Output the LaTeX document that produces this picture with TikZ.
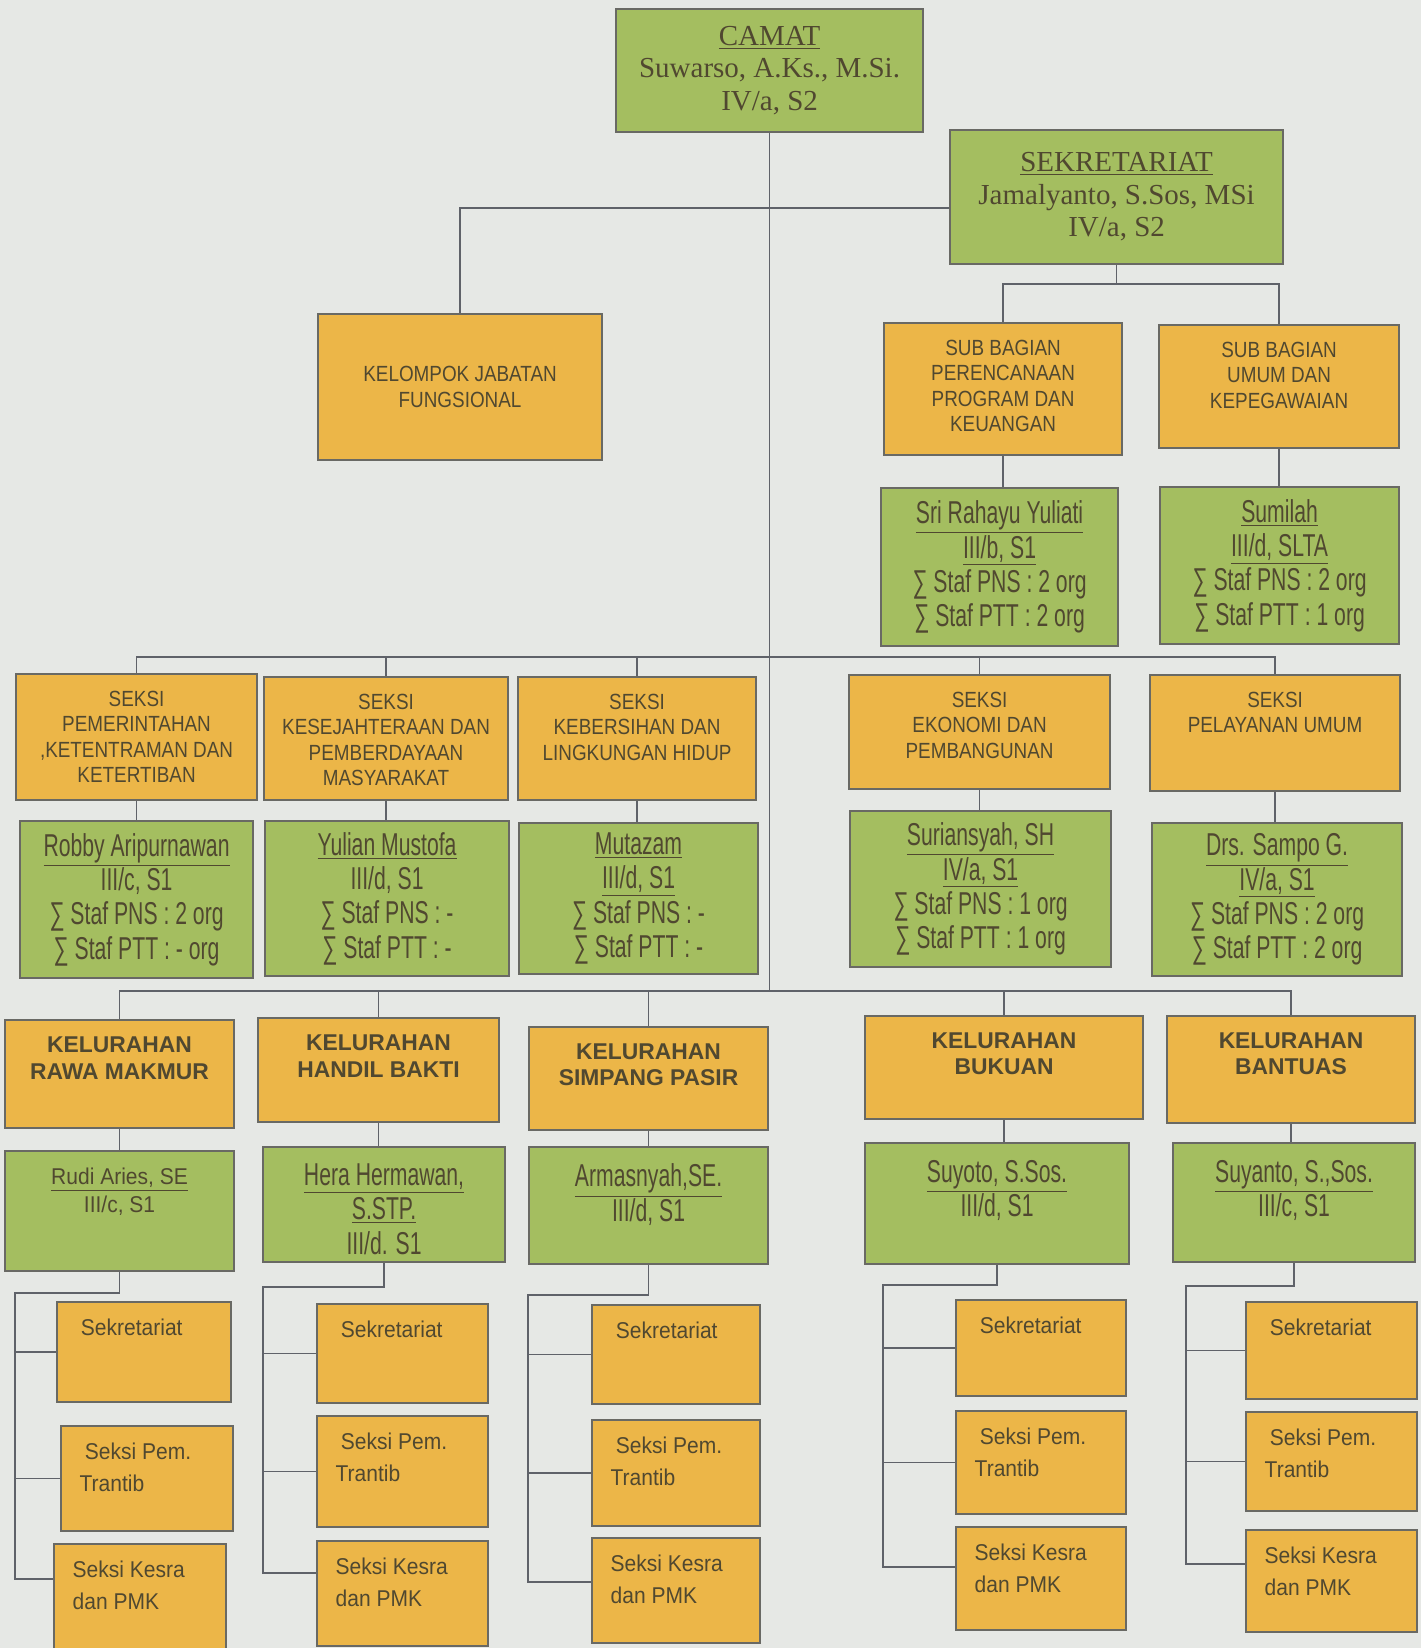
\documentclass[tikz,border=0pt]{standalone}
\usepackage{fontspec}
\setmainfont{Liberation Serif}
\setsansfont{Liberation Sans}
\newfontfamily\sempit[FakeStretch=0.67]{Liberation Sans}
\newfontfamily\kapital[FakeStretch=0.86]{Liberation Sans}
\newfontfamily\agaksempit[FakeStretch=0.92]{Liberation Sans}
\newdimen\pxu
\pxu=0.02cm
\definecolor{latar}{RGB}{230,232,229}
\definecolor{daun}{RGB}{164,190,96}
\definecolor{jingga}{RGB}{236,182,72}
\definecolor{bingkai}{RGB}{105,105,100}
\definecolor{garis}{RGB}{95,98,105}
\definecolor{tinta}{RGB}{80,72,48}

\begin{document}
\begin{tikzpicture}[
  x=0.02cm, y=-0.02cm,
  ukuran/.style 2 args={minimum width=#1\pxu, minimum height=#2\pxu},
  kotak/.style={draw=bingkai, line width=1.2pt, anchor=north west,
    inner sep=0pt, align=center, text=tinta},
  hijau/.style={kotak, fill=daun},
  oranye/.style={kotak, fill=jingga},
  atas/.style={anchor=north, yshift=-10pt, inner sep=0pt, align=center, text=tinta},
  kiri/.style={anchor=north west, xshift=11pt, yshift=-10pt, inner sep=0pt, align=left, text=tinta},
  fkamat/.style={font=\fontsize{16.5}{18.5}\selectfont},
  fnama/.style={font=\sempit\fontsize{18}{19.5}\selectfont},
  fseksi/.style={font=\kapital\fontsize{12.5}{14.5}\selectfont},
  flurah/.style={font=\sffamily\bfseries\fontsize{13}{15}\selectfont},
  fkecil/.style={font=\agaksempit\fontsize{13}{16}\selectfont},
  funit/.style={font=\agaksempit\fontsize{13}{18}\selectfont},
  hubung/.style={draw=garis, line width=1pt}
]
\fill[latar] (0,0) rectangle (1421,1648);
\useasboundingbox (0,0) rectangle (1421,1648);

\node[hijau, fkamat, ukuran={307}{123}] (camat) at (615,8) {\underline{CAMAT}\\Suwarso, A.Ks., M.Si.\\IV/a, S2};
\node[hijau, fkamat, ukuran={333}{134}] (sekre) at (949,129) {\underline{SEKRETARIAT}\\Jamalyanto, S.Sos, MSi\\IV/a, S2};
\node[oranye, fseksi, ukuran={284}{146}] (jafung) at (317,313) {KELOMPOK JABATAN\\FUNGSIONAL};

\node[oranye, ukuran={238}{132}, label={[atas, fseksi]north:SUB BAGIAN\\PERENCANAAN\\PROGRAM DAN\\KEUANGAN}] (sbpk) at (883,322) {};
\node[oranye, ukuran={240}{123}, label={[atas, fseksi]north:SUB BAGIAN\\UMUM DAN\\KEPEGAWAIAN}] (sbuk) at (1158,324) {};
\node[hijau, fnama, ukuran={237}{158}] (sri) at (880,487) {\underline{Sri Rahayu Yuliati}\\\underline{III/b, S1}\\∑ Staf PNS : 2 org\\∑ Staf PTT : 2 org};
\node[hijau, fnama, ukuran={239}{157}] (sumilah) at (1159,486) {\underline{Sumilah}\\\underline{III/d, SLTA}\\∑ Staf PNS : 2 org\\∑ Staf PTT : 1 org};

\node[oranye, ukuran={241}{126}, label={[atas, fseksi]north:SEKSI\\PEMERINTAHAN\\,KETENTRAMAN DAN\\KETERTIBAN}] (spem) at (15,673) {};
\node[oranye, ukuran={244}{123}, label={[atas, fseksi]north:SEKSI\\KESEJAHTERAAN DAN\\PEMBERDAYAAN\\MASYARAKAT}] (skesra) at (263,676) {};
\node[oranye, ukuran={238}{123}, label={[atas, fseksi]north:SEKSI\\KEBERSIHAN DAN\\LINGKUNGAN HIDUP}] (sling) at (517,676) {};
\node[oranye, ukuran={261}{114}, label={[atas, fseksi]north:SEKSI\\EKONOMI DAN\\PEMBANGUNAN}] (sekbang) at (848,674) {};
\node[oranye, ukuran={250}{116}, label={[atas, fseksi]north:SEKSI\\PELAYANAN UMUM}] (spu) at (1149,674) {};

\node[hijau, fnama, ukuran={233}{157}] (robby) at (19,820) {\underline{Robby Aripurnawan}\\III/c, S1\\∑ Staf PNS : 2 org\\∑ Staf PTT : - org};
\node[hijau, fnama, ukuran={244}{155}] (yulian) at (264,820) {\underline{Yulian Mustofa}\\III/d, S1\\∑ Staf PNS : -\\∑ Staf PTT : -};
\node[hijau, fnama, ukuran={239}{151}] (mutazam) at (518,822) {\underline{Mutazam}\\\underline{III/d, S1}\\∑ Staf PNS : -\\∑ Staf PTT : -};
\node[hijau, fnama, ukuran={261}{156}] (surian) at (849,810) {\underline{Suriansyah, SH}\\\underline{IV/a, S1}\\∑ Staf PNS : 1 org\\∑ Staf PTT : 1 org};
\node[hijau, fnama, ukuran={250}{153}] (sampo) at (1151,822) {\underline{Drs. Sampo G.}\\\underline{IV/a, S1}\\∑ Staf PNS : 2 org\\∑ Staf PTT : 2 org};

\node[oranye, ukuran={229}{108}, label={[atas, flurah]north:KELURAHAN\\RAWA MAKMUR}] (kel1) at (4,1019) {};
\node[oranye, ukuran={241}{104}, label={[atas, flurah]north:KELURAHAN\\HANDIL BAKTI}] (kel2) at (257,1017) {};
\node[oranye, ukuran={239}{103}, label={[atas, flurah]north:KELURAHAN\\SIMPANG PASIR}] (kel3) at (528,1026) {};
\node[oranye, ukuran={278}{103}, label={[atas, flurah]north:KELURAHAN\\BUKUAN}] (kel4) at (864,1015) {};
\node[oranye, ukuran={248}{107}, label={[atas, flurah]north:KELURAHAN\\BANTUAS}] (kel5) at (1166,1015) {};

\node[hijau, ukuran={229}{120}, label={[atas, fkecil]north:\underline{Rudi Aries, SE}\\III/c, S1}] (lur1) at (4,1150) {};
\node[hijau, ukuran={242}{115}, label={[atas, fnama]north:\underline{Hera Hermawan,}\\\underline{S.STP.}\\III/d. S1}] (lur2) at (262,1146) {};
\node[hijau, ukuran={239}{117}, label={[atas, fnama]north:\underline{Armasnyah,SE.}\\III/d, S1}] (lur3) at (528,1146) {};
\node[hijau, ukuran={264}{121}, label={[atas, fnama]north:\underline{Suyoto, S.Sos.}\\III/d, S1}] (lur4) at (864,1142) {};
\node[hijau, ukuran={242}{119}, label={[atas, fnama]north:\underline{Suyanto, S.,Sos.}\\III/c, S1}] (lur5) at (1172,1142) {};

\node[oranye, ukuran={174}{100}, label={[kiri, funit]north west:\hspace*{3pt}Sekretariat}] (sek1) at (56,1301) {};
\node[oranye, ukuran={172}{105}, label={[kiri, funit]north west:\hspace*{3pt}Seksi Pem.\\Trantib}] (pem1) at (60,1425) {};
\node[oranye, ukuran={172}{110}, label={[kiri, funit]north west:Seksi Kesra\\dan PMK}] (ksr1) at (53,1543) {};
\node[oranye, ukuran={171}{99}, label={[kiri, funit]north west:\hspace*{3pt}Sekretariat}] (sek2) at (316,1303) {};
\node[oranye, ukuran={171}{111}, label={[kiri, funit]north west:\hspace*{3pt}Seksi Pem.\\Trantib}] (pem2) at (316,1415) {};
\node[oranye, ukuran={171}{105}, label={[kiri, funit]north west:Seksi Kesra\\dan PMK}] (ksr2) at (316,1540) {};
\node[oranye, ukuran={168}{99}, label={[kiri, funit]north west:\hspace*{3pt}Sekretariat}] (sek3) at (591,1304) {};
\node[oranye, ukuran={168}{106}, label={[kiri, funit]north west:\hspace*{3pt}Seksi Pem.\\Trantib}] (pem3) at (591,1419) {};
\node[oranye, ukuran={168}{105}, label={[kiri, funit]north west:Seksi Kesra\\dan PMK}] (ksr3) at (591,1537) {};
\node[oranye, ukuran={170}{96}, label={[kiri, funit]north west:\hspace*{3pt}Sekretariat}] (sek4) at (955,1299) {};
\node[oranye, ukuran={170}{103}, label={[kiri, funit]north west:\hspace*{3pt}Seksi Pem.\\Trantib}] (pem4) at (955,1410) {};
\node[oranye, ukuran={170}{103}, label={[kiri, funit]north west:Seksi Kesra\\dan PMK}] (ksr4) at (955,1526) {};
\node[oranye, ukuran={171}{97}, label={[kiri, funit]north west:\hspace*{3pt}Sekretariat}] (sek5) at (1245,1301) {};
\node[oranye, ukuran={171}{99}, label={[kiri, funit]north west:\hspace*{3pt}Seksi Pem.\\Trantib}] (pem5) at (1245,1411) {};
\node[oranye, ukuran={171}{102}, label={[kiri, funit]north west:Seksi Kesra\\dan PMK}] (ksr5) at (1245,1529) {};

\coordinate (bussek) at (0,284);
\coordinate (busseksi) at (0,657);
\coordinate (buskel) at (0,991);
\coordinate (siku1) at (15,1293);
\coordinate (siku2) at (263,1287);
\coordinate (siku3) at (528,1295);
\coordinate (siku4) at (883,1285);
\coordinate (siku5) at (1186,1286);

\draw[hubung] (camat.south) -- (camat.south |- buskel);
\draw[hubung] ([yshift=-11\pxu]sekre.west) -| (jafung.north);
\draw[hubung] (sekre.south) -- (sekre.south |- bussek);
\draw[hubung] (sbpk.north) -- (sbpk.north |- bussek) -- (sbuk.north |- bussek) -- (sbuk.north);
\draw[hubung] (sbpk.south) -- (sbpk.south |- sri.north);
\draw[hubung] (sbuk.south) -- (sbuk.south |- sumilah.north);

\draw[hubung] (spem.north) -- (spem.north |- busseksi) -- (spu.north |- busseksi) -- (spu.north);
\draw[hubung] (skesra.north) -- (skesra.north |- busseksi);
\draw[hubung] (sling.north) -- (sling.north |- busseksi);
\draw[hubung] (sekbang.north) -- (sekbang.north |- busseksi);
\draw[hubung] (spem.south) -- (spem.south |- robby.north);
\draw[hubung] (skesra.south) -- (skesra.south |- yulian.north);
\draw[hubung] (sling.south) -- (sling.south |- mutazam.north);
\draw[hubung] (sekbang.south) -- (sekbang.south |- surian.north);
\draw[hubung] (spu.south) -- (spu.south |- sampo.north);

\draw[hubung] (kel1.north) -- (kel1.north |- buskel) -- (kel5.north |- buskel) -- (kel5.north);
\draw[hubung] (kel2.north) -- (kel2.north |- buskel);
\draw[hubung] (kel3.north) -- (kel3.north |- buskel);
\draw[hubung] (kel4.north) -- (kel4.north |- buskel);
\draw[hubung] (kel1.south) -- (kel1.south |- lur1.north);
\draw[hubung] (kel2.south) -- (kel2.south |- lur2.north);
\draw[hubung] (kel3.south) -- (kel3.south |- lur3.north);
\draw[hubung] (kel4.south) -- (kel4.south |- lur4.north);
\draw[hubung] (kel5.south) -- (kel5.south |- lur5.north);

\draw[hubung] (lur1.south) |- (siku1) |- (sek1.west) (siku1) |- (pem1.west) (siku1) |- ([yshift=-36\pxu]ksr1.north west);
\draw[hubung] (lur2.south) |- (siku2) |- (sek2.west) (siku2) |- (pem2.west) (siku2) |- ([yshift=-33\pxu]ksr2.north west);
\draw[hubung] (lur3.south) |- (siku3) |- (sek3.west) (siku3) |- (pem3.west) (siku3) |- ([yshift=-45\pxu]ksr3.north west);
\draw[hubung] (lur4.south) |- (siku4) |- (sek4.west) (siku4) |- (pem4.west) (siku4) |- ([yshift=-41\pxu]ksr4.north west);
\draw[hubung] (lur5.south) |- (siku5) |- (sek5.west) (siku5) |- (pem5.west) (siku5) |- ([yshift=-35\pxu]ksr5.north west);
\end{tikzpicture}
\end{document}
